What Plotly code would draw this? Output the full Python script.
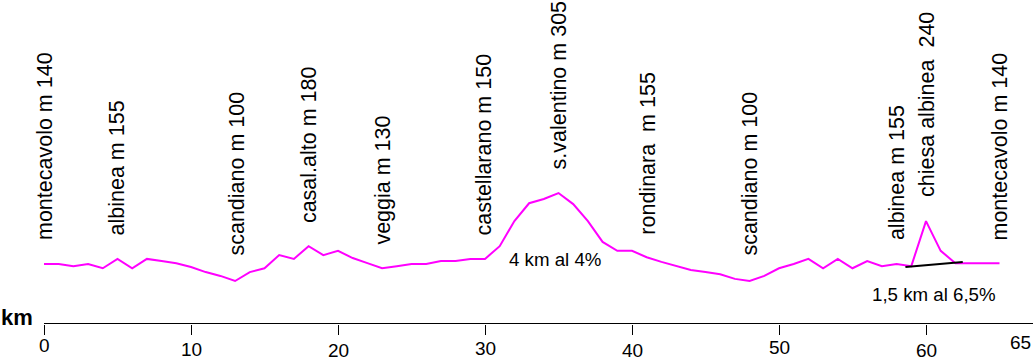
import plotly.graph_objects as go

# ---- data ----
km = list(range(0, 66))
elev = [140, 140, 135, 140, 130, 152, 130, 152, 147, 142,
        133, 121, 112, 100, 121, 130, 161, 152, 182, 161,
        171, 154, 142, 130, 135, 140, 140, 147, 147, 152,
        152, 182, 241, 283, 293, 307, 281, 241, 192, 171,
        171, 156, 145, 135, 126, 121, 116, 105, 100, 112,
        130, 140, 152, 130, 152, 130, 147, 135, 140, 135,
        241, 171, 142, 142, 142, 142]

place_names = ["montecavolo m 140", "albinea m 155", "scandiano m 100",
               "casal.alto m 180", "veggia m 130", "castellarano m 150",
               "s.valentino m 305", "rondinara  m 155", "scandiano m 100",
               "albinea m 155", "chiesa albinea  240", "montecavolo m 140"]
place_km = [0.07, 5.03, 13.1, 18.0, 23.0, 29.9, 35.1, 41.1, 48.0, 58.0, 60.1, 65.0]

climb_km = [58.6, 62.5]
climb_elev = [133, 145]

tick_vals = [0, 10, 20, 30, 40, 50, 60, 65]
tick_text = ["0", "10", "20", "30", "40", "50", "60", "65"]

note_texts = ["4 km al 4%", "1,5 km al 6,5%"]
note_km = [34.76, 60.54]

# ---- layout helpers (pixel positions) ----
W, H = 1033, 361
label_bottom_px = [242, 237, 258, 225, 247, 238, 171, 237, 258, 242, 199, 243]
tick_label_drop = [22, 26, 27, 25, 27, 24, 27, 19]
tick_label_xshift = [0, 0, 0, 0, 0, 0, 0, 21]
note_y_px = [259, 294]

FONT = "Arial, Liberation Sans, sans-serif"

fig = go.Figure()
fig.add_trace(go.Scatter(x=km, y=elev, mode="lines",
                         line=dict(color="#FF00FF", width=2), hoverinfo="skip"))
fig.add_trace(go.Scatter(x=climb_km, y=climb_elev, mode="lines",
                         line=dict(color="black", width=2), hoverinfo="skip"))

x_min, x_max = -44 / 14.7, (W - 44) / 14.7
y_min, y_max = -88.2, 761.2

# baseline of the km axis
fig.add_shape(type="line", xref="x", yref="y", x0=0, x1=x_max, y0=0, y1=0,
              line=dict(color="black", width=1))

annotations = []
for name, k, b in zip(place_names, place_km, label_bottom_px):
    annotations.append(dict(x=k, y=1 - b / H, xref="x", yref="paper",
                            text=name, textangle=-90, showarrow=False,
                            xanchor="center", yanchor="bottom",
                            font=dict(family=FONT, size=21.5, color="black")))
for v, t, d, xs in zip(tick_vals, tick_text, tick_label_drop, tick_label_xshift):
    annotations.append(dict(x=v, y=0, xref="x", yref="y", text=t, showarrow=False,
                            xanchor="center", yanchor="middle", yshift=-d, xshift=xs,
                            font=dict(family=FONT, size=19, color="black")))
for t, k, yp in zip(note_texts, note_km, note_y_px):
    annotations.append(dict(x=k, y=1 - yp / H, xref="x", yref="paper", text=t,
                            showarrow=False, xanchor="center", yanchor="middle",
                            font=dict(family=FONT, size=18.7, color="black")))
annotations.append(dict(x=17 / W, y=1 - 317 / H, xref="paper", yref="paper",
                        text="<b>km</b>", showarrow=False, xanchor="center",
                        yanchor="middle", font=dict(family=FONT, size=22, color="black")))

fig.update_layout(
    width=W, height=H,
    margin=dict(l=0, r=0, t=0, b=0),
    paper_bgcolor="white", plot_bgcolor="white",
    showlegend=False,
    annotations=annotations,
    xaxis=dict(range=[x_min, x_max], showgrid=False, zeroline=False,
               showline=False, tickvals=tick_vals[:-1], ticks="outside",
               ticklen=10, tickcolor="black", tickwidth=1,
               showticklabels=False, anchor="free",
               position=1 - 323.5 / H),
    yaxis=dict(range=[y_min, y_max], visible=False, showgrid=False, zeroline=False),
)

fig.write_html("out.html", config={"displayModeBar": False},
               post_script="document.body.style.margin='0';document.body.style.overflow='hidden';")
